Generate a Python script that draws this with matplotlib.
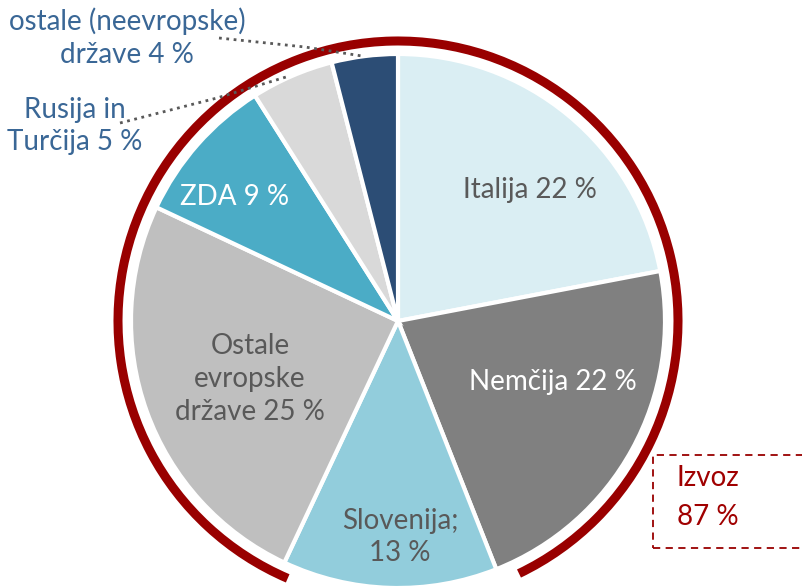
import matplotlib.pyplot as plt
from matplotlib.patches import Arc, Rectangle

plt.rcParams['font.family'] = ['Lato', 'DejaVu Sans']

# shares in %, clockwise from the top
countries = ['Italija', 'Nemčija', 'Slovenija', 'Ostale evropske države',
             'ZDA', 'Rusija in Turčija', 'ostale (neevropske) države']
shares = [22, 22, 13, 25, 9, 5, 4]
colors = ['#DAEEF3', '#808080', '#92CDDC', '#BFBFBF', '#4BACC6', '#D9D9D9', '#2C4D75']
export_share = 87

fig = plt.figure(figsize=(8.03, 5.86), dpi=100)
ax = fig.add_axes([0, 0, 1, 1])

cx, cy, r = 398, 586 - 321, 267
wedges, _ = ax.pie(shares, colors=colors, startangle=90, counterclock=False,
                   center=(cx, cy), radius=r, frame=True,
                   wedgeprops=dict(edgecolor='white', linewidth=3))
ax.set_xlim(0, 803)
ax.set_ylim(0, 586)
ax.set_aspect('equal')
ax.axis('off')

# red arc around the export part (everything but Slovenia)
a1 = wedges[2].theta2
a2 = wedges[2].theta1 + 360
ax.add_patch(Arc((cx, cy), 2 * 280, 2 * 280, theta1=a1 + 4, theta2=a2 + 2,
                 color='#990000', lw=6.5))

gray = '#595959'
blue = '#3A6796'
fs = 20

def lab(x, y, s, c):
    ax.text(x, 586 - y, s, ha='center', va='center', fontsize=fs, color=c,
            linespacing=1.32, multialignment='center')

lab(530, 190, 'Italija 22 %', gray)
lab(553, 382, 'Nemčija 22 %', 'white')
lab(400, 537, 'Slovenija;\n13 %', gray)
lab(250, 379, 'Ostale\nevropske\ndržave 25 %', gray)
lab(235, 197, 'ZDA 9 %', 'white')
lab(75, 126, 'Rusija in\nTurčija 5 %', blue)
lab(127, 38, 'ostale (neevropske)\ndržave 4 %', blue)

# leader lines
ax.plot([219, 305, 362], [586 - 38, 586 - 47, 586 - 56], ls=':', lw=2, color='#595959')
ax.plot([120, 217, 286], [586 - 123, 586 - 98, 586 - 77], ls=':', lw=2, color='#595959')

# export box
ax.add_patch(Rectangle((653, 586 - 548), 160, 93, fill=False, ec='#990000',
                       ls=(0, (4, 3)), lw=1.3))
lab_red = '#A00000'
ax.text(708, 586 - 478, 'Izvoz', ha='center', va='center', fontsize=fs, color=lab_red)
ax.text(708, 586 - 517, '%d %%' % export_share, ha='center', va='center',
        fontsize=fs, color=lab_red)

fig.savefig('out.png', dpi=100)
